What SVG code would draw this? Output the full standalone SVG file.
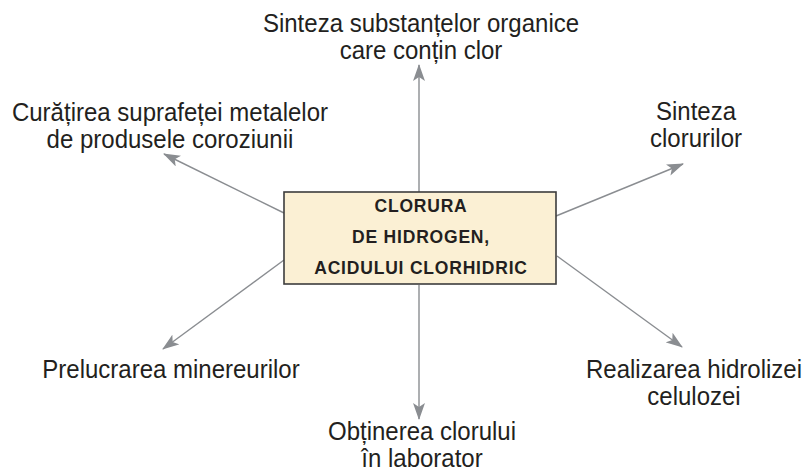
<svg xmlns="http://www.w3.org/2000/svg" width="807" height="472" viewBox="0 0 807 472">
<defs>
<marker id="ah" markerUnits="userSpaceOnUse" markerWidth="18" markerHeight="12" refX="16" refY="6" orient="auto">
<path d="M0,0 L17,6 L0,12 L4,6 Z" fill="#8a8d91"/>
</marker>
<style>
.lbl{font-family:"Liberation Sans",Arial,sans-serif;font-size:25px;fill:#231f20;text-anchor:middle}
.box{fill:#fbf0d4;stroke:#3c3c3c;stroke-width:1.6}
.bt{font-family:"Liberation Sans",Arial,sans-serif;font-size:17.5px;font-weight:bold;letter-spacing:0.8px;fill:#231f20;text-anchor:middle}
.con{stroke:#8a8d91;stroke-width:1.4;fill:none;marker-end:url(#ah)}
</style>
</defs>
<rect width="807" height="472" fill="#ffffff"/>
<g id="connectors">
<line class="con" x1="419" y1="192" x2="419" y2="65"/>
<line class="con" x1="419" y1="285" x2="419" y2="419"/>
<line class="con" x1="284" y1="213" x2="164" y2="154"/>
<line class="con" x1="556" y1="216" x2="683" y2="164"/>
<line class="con" x1="284" y1="260" x2="163" y2="349"/>
<line class="con" x1="557" y1="256" x2="682" y2="347"/>
</g>
<g id="center">
<rect class="box" x="284" y="192" width="272" height="92"/>
<text class="bt" x="421" y="212">CLORURA</text>
<text class="bt" x="421" y="243">DE HIDROGEN,</text>
<text class="bt" x="421" y="274">ACIDULUI CLORHIDRIC</text>
</g>
<g id="top">
<text class="lbl" transform="translate(421,32) scale(0.96,1)">Sinteza substanțelor organice</text>
<text class="lbl" transform="translate(421,59) scale(0.96,1)">care conțin clor</text>
</g>
<g id="topleft">
<text class="lbl" transform="translate(170,121) scale(0.96,1)">Curățirea suprafeței metalelor</text>
<text class="lbl" transform="translate(170,148) scale(0.96,1)">de produsele coroziunii</text>
</g>
<g id="topright">
<text class="lbl" transform="translate(696,120) scale(0.96,1)">Sinteza</text>
<text class="lbl" transform="translate(696,147) scale(0.96,1)">clorurilor</text>
</g>
<g id="bottomleft">
<text class="lbl" transform="translate(171,378) scale(0.96,1)">Prelucrarea minereurilor</text>
</g>
<g id="bottomright">
<text class="lbl" transform="translate(694,378) scale(0.96,1)">Realizarea hidrolizei</text>
<text class="lbl" transform="translate(694,405) scale(0.96,1)">celulozei</text>
</g>
<g id="bottom">
<text class="lbl" transform="translate(422,440) scale(0.96,1)">Obținerea clorului</text>
<text class="lbl" transform="translate(422,467) scale(0.96,1)">în laborator</text>
</g>
</svg>
